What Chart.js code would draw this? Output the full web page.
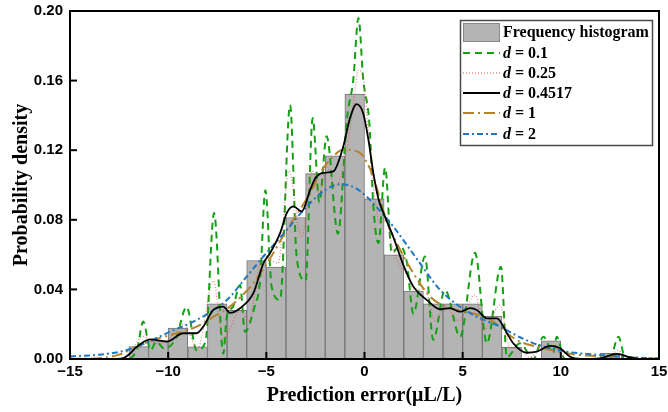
<!DOCTYPE html>
<html>
<head>
<meta charset="utf-8">
<script src="https://cdn.jsdelivr.net/npm/chart.js@4.4.1/dist/chart.umd.min.js"></script>
<style>
  body { margin: 0; background: #fff; }
  canvas { display: block; }
</style>
</head>
<body>
<canvas id="chart" width="668" height="412"></canvas>
<script>
// histogram (bin width 1)
const binCenters = [-14.5, -13.5, -12.5, -11.5, -10.5, -9.5, -8.5, -7.5, -6.5, -5.5, -4.5, -3.5, -2.5, -1.5, -0.5,
  0.5, 1.5, 2.5, 3.5, 4.5, 5.5, 6.5, 7.5, 8.5, 9.5, 10.5, 11.5, 12.5, 13.5, 14.5];
const binDensity = [0, 0, 0, 0.0071, 0.0104, 0.0177, 0.0070, 0.0317, 0.0280, 0.0566, 0.0528, 0.0813, 0.1065, 0.1168, 0.1523,
  0.0920, 0.0599, 0.0391, 0.0317, 0.0317, 0.0317, 0.0247, 0.0067, 0, 0.0104, 0, 0, 0.0033, 0, 0];

// kernel density curves
const d01X = [-15, -12.2, -11.6, -11.27, -10.9, -10.6, -10.2, -9.6, -9.06, -8.55, -8.1, -7.66, -7.19, -7.02, -6.7, -6.34, -6.09,
  -5.6, -5.32, -5.05, -4.73, -4.3, -3.79, -3.45, -3.0, -2.64, -2.3, -1.93, -1.35, -0.9, -0.57, -0.31, -0.06, 0.25, 0.45, 0.71,
  1.05, 1.39, 1.8, 2.15, 2.49, 3.08, 3.5, 4.1, 4.87, 5.63, 6.23, 6.95, 7.25, 7.92, 8.6, 9.11, 9.62, 9.79, 10.2, 12.5, 12.93, 13.3, 15];
const d01Y = [0, 0, 0.005, 0.0215, 0.005, 0.010, 0.006, 0.012, 0.030, 0.005, 0.010, 0.0839, 0.003, 0.024, 0.030, 0.0426, 0.0157,
  0.030, 0.045, 0.097, 0.0416, 0.034, 0.146, 0.058, 0.045, 0.1385, 0.090, 0.128, 0.072, 0.1375, 0.1606, 0.196, 0.160, 0.135, 0.088, 0.0666,
  0.110, 0.061, 0.065, 0.056, 0.026, 0.0589, 0.011, 0.0397, 0.0128, 0.061, 0.009, 0.053, 0.001, 0.009, 0, 0.0128, 0.0035, 0.0128, 0, 0, 0.0128, 0, 0];

const d025X = [-15, -12.3, -11.8, -11.3, -10.6, -10.0, -9.2, -8.5, -7.7, -7.2, -6.3, -5.9, -5.2, -4.4, -3.85, -3.2, -2.64, -2.3,
  -1.93, -1.5, -0.9, -0.57, -0.31, -0.06, 0.2, 0.5, 0.79, 1.1, 1.4, 1.81, 2.2, 2.5, 3.08, 3.6, 4.1, 4.8, 5.63, 6.1, 6.9, 7.4,
  7.9, 8.4, 9.0, 9.45, 9.8, 10.3, 12.4, 12.9, 13.4, 15];
const d025Y = [0, 0, 0.006, 0.013, 0.009, 0.011, 0.020, 0.006, 0.045, 0.012, 0.028, 0.022, 0.060, 0.055, 0.108, 0.070, 0.108, 0.095,
  0.111, 0.099, 0.120, 0.146, 0.166, 0.162, 0.130, 0.095, 0.078, 0.080, 0.065, 0.053, 0.048, 0.040, 0.040, 0.022, 0.030, 0.022, 0.037, 0.017, 0.031, 0.007,
  0.006, 0.001, 0.006, 0.008, 0.006, 0, 0, 0.005, 0, 0];

const d04517X = [-15, -12.6, -12.28, -11.95, -11.6, -10.92, -10.07, -9.23, -8.55, -8.21, -7.7, -7.19, -6.85, -6.34, -5.66, -5.15,
  -4.81, -4.3, -3.96, -3.62, -3.2, -2.77, -2.5, -2.1, -1.59, -1.08, -0.75, -0.4, -0.06, 0.2, 0.45, 0.71, 1.0, 1.47, 1.98, 2.49,
  3.17, 3.85, 4.36, 4.87, 5.38, 5.72, 6.23, 6.74, 7.25, 7.58, 8.26, 8.77, 9.45, 9.96, 10.47, 11.0, 12.0, 12.85, 13.53, 14.0, 15];
const d04517Y = [0, 0, 0.0005, 0.003, 0.007, 0.0113, 0.010, 0.0148, 0.0148, 0.0186, 0.0282, 0.0301, 0.0265, 0.0292, 0.0378, 0.055,
  0.0608, 0.0723, 0.0839, 0.0877, 0.0848, 0.097, 0.104, 0.107, 0.1078, 0.1222, 0.138, 0.1465, 0.141, 0.126, 0.107, 0.092, 0.083, 0.070, 0.054, 0.0416,
  0.034, 0.0286, 0.0292, 0.0272, 0.0292, 0.0282, 0.0234, 0.0234, 0.015, 0.009, 0.0036, 0.0042, 0.0075, 0.0062, 0.0013, 0, 0.0004, 0.0029, 0.001, 0, 0];

const d1X = [-15, -13.5, -12.5, -11.94, -10.76, -9.56, -8.55, -7.53, -6.85, -5.66, -4.8, -3.96, -2.77, -2.26, -1.75, -1.08, -0.23,
  0.11, 0.37, 0.71, 1.1, 1.64, 2.49, 3.34, 4.36, 5.38, 6.56, 7.25, 7.92, 9.11, 10.0, 10.98, 12.85, 15];
const d1Y = [0, 0.0005, 0.0025, 0.0052, 0.011, 0.0148, 0.0186, 0.0253, 0.0301, 0.0436, 0.058, 0.0742, 0.0954, 0.107, 0.1145, 0.1203, 0.1185,
  0.113, 0.107, 0.095, 0.080, 0.0666, 0.0493, 0.0359, 0.0292, 0.0267, 0.0215, 0.0148, 0.010, 0.0062, 0.004, 0.0023, 0.0013, 0.0001];

const d2X = [-15, -13.5, -12.45, -11.6, -10.8, -9.9, -8.55, -7.0, -6.0, -5.15, -3.96, -2.94, -2.1, -1.25, -0.5, 0.11, 0.8, 1.47,
  2.83, 3.85, 5.38, 6.9, 7.92, 9.0, 10.3, 12.0, 13.5, 15];
const d2Y = [0.0015, 0.0025, 0.0042, 0.007, 0.011, 0.0157, 0.0224, 0.034, 0.0474, 0.0589, 0.0742, 0.0877, 0.0963, 0.1005, 0.0985, 0.0934, 0.085, 0.0761,
  0.055, 0.0397, 0.0263, 0.0186, 0.0125, 0.0075, 0.0042, 0.0023, 0.001, 0.0003];

const xTicks = [-15, -10, -5, 0, 5, 10, 15];
const yTicks = [0, 0.04, 0.08, 0.12, 0.16, 0.20];

const bandLabels = ['0.1', '0.25', '0.4517', '1', '2'];
const bandColors = ['#14a014', 'rgba(235,70,70,0.65)', '#000000', '#b5832a', '#1f78c1'];
const bandDashes = [[7, 5], [1, 2], [], [11, 4, 2, 4], [6, 3, 2, 3]];
const bandWidths = [2, 1.3, 1.8, 2, 2];

const pts = (xs, ys) => xs.map((x, i) => ({x: x, y: ys[i]}));
const curveData = [pts(d01X, d01Y), pts(d025X, d025Y), pts(d04517X, d04517Y), pts(d1X, d1Y), pts(d2X, d2Y)];
const curveOrder = [5, 4, 1, 3, 2];

let datasets = [{
  type: 'bar',
  data: pts(binCenters, binDensity),
  backgroundColor: '#b4b4b4',
  borderColor: '#767676',
  borderWidth: 1,
  barPercentage: 1,
  categoryPercentage: 1,
  order: 10
}];
bandLabels.forEach((lab, i) => {
  datasets.push({
    type: 'line',
    data: curveData[i],
    borderColor: bandColors[i],
    borderDash: bandDashes[i],
    borderWidth: bandWidths[i],
    pointRadius: 0,
    fill: false,
    cubicInterpolationMode: 'monotone',
    order: curveOrder[i]
  });
});

const serif = '"Liberation Serif", "Times New Roman", serif';
const sans = '"Liberation Sans", Arial, sans-serif';

// frame, inward ticks and the legend box
const decor = {
  id: 'decor',
  afterDatasetsDraw(chart) {
    const ctx = chart.ctx;
    const a = chart.chartArea;
    const xs = chart.scales.x, ys = chart.scales.y;
    ctx.save();
    ctx.strokeStyle = '#000';
    ctx.lineWidth = 2;
    ctx.setLineDash([]);
    ctx.strokeRect(a.left, a.top, a.right - a.left, a.bottom - a.top);
    yTicks.forEach(v => {
      const y = ys.getPixelForValue(v);
      ctx.beginPath(); ctx.moveTo(a.left, y); ctx.lineTo(a.left + 7, y); ctx.stroke();
    });
    xTicks.forEach(v => {
      const x = xs.getPixelForValue(v);
      ctx.beginPath(); ctx.moveTo(x, a.bottom); ctx.lineTo(x, a.bottom - 7); ctx.stroke();
    });

    // legend
    const lx = 460, ly = 20, lw = 192, lh = 125;
    ctx.fillStyle = '#fff';
    ctx.fillRect(lx, ly, lw, lh);
    ctx.strokeStyle = '#4a4a4a';
    ctx.lineWidth = 1.5;
    ctx.strokeRect(lx + 0.5, ly + 0.5, lw, lh);

    ctx.fillStyle = '#b4b4b4';
    ctx.fillRect(463, 23, 36, 18);
    ctx.strokeStyle = '#888';
    ctx.lineWidth = 1;
    ctx.strokeRect(463.5, 23.5, 36, 18);
    ctx.fillStyle = '#000';
    ctx.textBaseline = 'middle';
    ctx.font = 'bold 16px ' + serif;
    ctx.fillText('Frequency histogram', 503, 33);

    const rows = [53, 73, 93, 113, 134];
    bandLabels.forEach((lab, i) => {
      const y = rows[i];
      ctx.strokeStyle = bandColors[i];
      ctx.lineWidth = bandWidths[i];
      ctx.setLineDash(bandDashes[i]);
      ctx.beginPath(); ctx.moveTo(463, y); ctx.lineTo(500, y); ctx.stroke();
      ctx.setLineDash([]);
      ctx.fillStyle = '#000';
      ctx.font = 'italic bold 16px ' + serif;
      ctx.fillText('d', 503, y + 1);
      const w = ctx.measureText('d').width;
      ctx.font = 'bold 16px ' + serif;
      ctx.fillText(' = ' + lab, 503 + w, y + 1);
    });
    ctx.restore();
  }
};

new Chart(document.getElementById('chart'), {
  type: 'bar',
  data: {datasets: datasets},
  plugins: [decor],
  options: {
    responsive: false,
    animation: false,
    devicePixelRatio: 1,
    layout: {padding: {top: 11, right: 9, left: 0, bottom: 0}},
    plugins: {legend: {display: false}, tooltip: {enabled: false}},
    scales: {
      x: {
        type: 'linear',
        min: -15,
        max: 15,
        offset: false,
        afterBuildTicks: s => { s.ticks = xTicks.map(v => ({value: v})); },
        afterFit: s => { s.height = 53; s.paddingLeft = 0; s.paddingRight = 0; },
        grid: {display: false, drawTicks: false},
        border: {display: false},
        ticks: {
          padding: 4,
          color: '#000',
          font: {family: sans, size: 15, weight: 'bold'},
          maxRotation: 0,
          callback: v => String(v).replace('-', '\u2212')
        },
        title: {
          display: true,
          text: 'Prediction error(\u03bcL/L)',
          color: '#000',
          font: {family: serif, size: 20, weight: 'bold'},
          padding: {top: 4}
        }
      },
      y: {
        min: 0,
        max: 0.2,
        afterBuildTicks: s => { s.ticks = yTicks.map(v => ({value: v})); },
        afterFit: s => { s.width = 70; s.paddingTop = 0; s.paddingBottom = 0; },
        grid: {display: false, drawTicks: false},
        border: {display: false},
        ticks: {
          padding: 7,
          color: '#000',
          font: {family: sans, size: 15, weight: 'bold'},
          callback: v => v.toFixed(2)
        },
        title: {
          display: true,
          text: 'Probability density',
          color: '#000',
          font: {family: serif, size: 20, weight: 'bold'},
          padding: {top: 10}
        }
      }
    }
  }
});
</script>
</body>
</html>
